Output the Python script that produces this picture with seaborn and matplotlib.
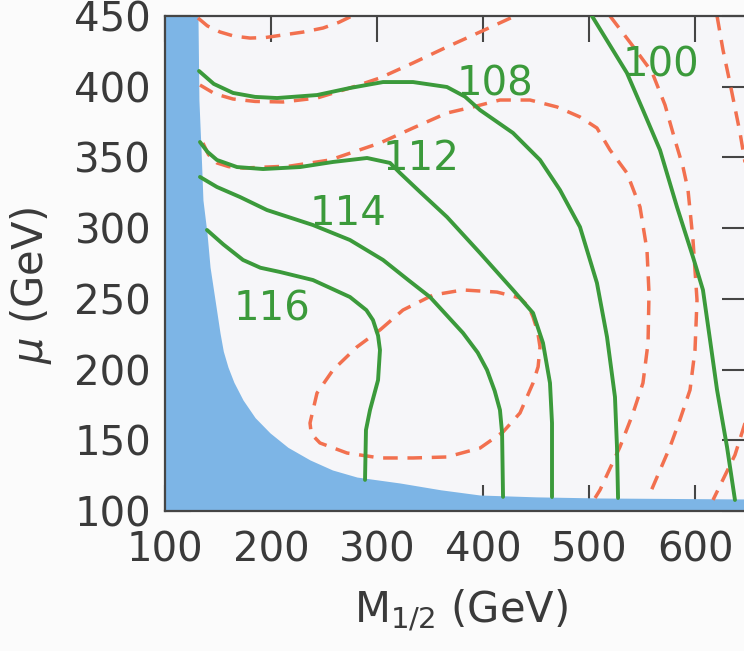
import numpy as np
import pandas as pd
import matplotlib
matplotlib.use("Agg")
import matplotlib.pyplot as plt
import seaborn as sns

# upper edge of the excluded (blue) region, M_1/2 vs mu
edge_m = [100, 131.1, 132.0, 134.0, 135.8, 139.6, 142.5, 147.2, 151.9, 155.0, 159.4, 165.0,
          173.6, 185.0, 199.1, 216.0, 236.8, 258.0, 281.1, 321.7, 360.0, 397.2, 450.0, 510.4, 650]
edge_mu = [450, 450, 390.6, 355.3, 319.9, 296.6, 272.5, 249.2, 225.9, 213.0, 201.8, 191.0,
           178.5, 166.0, 155.2, 145.0, 136.1, 129.0, 124.0, 119.8, 115.0, 111.3, 110.0, 109.2, 108.5]

# solid green contours (labelled values)
m116 = [139.6, 155.0, 173.6, 190.0, 208.5, 239.6, 274.5, 290.0, 296.2, 301.0, 302.8, 301.0,
        293.4, 289.6, 288.7]
mu116 = [298.7, 288.5, 277.5, 272.0, 269.0, 263.3, 251.3, 242.0, 235.0, 224.0, 213.8, 192.6,
         171.4, 157.3, 122.0]

m114 = [133.0, 149.0, 170.8, 196.2, 239.6, 274.5, 305.7, 330.0, 350.0, 381.1, 395.0, 403.8,
        411.0, 416.0, 418.0, 418.9]
mu114 = [336.2, 329.1, 322.0, 312.8, 302.2, 291.6, 277.5, 263.0, 251.3, 225.9, 212.0, 199.7,
         185.0, 171.4, 155.2, 110.0]

m112 = [133.0, 140.0, 149.0, 167.9, 192.5, 227.4, 258.5, 290.6, 312.3, 321.7, 340.6, 366.0,
        397.2, 428.3, 447.2, 456.6, 463.2, 465.1, 465.1]
mu112 = [360.9, 354.0, 348.2, 343.2, 341.8, 343.2, 346.8, 349.6, 346.1, 339.0, 325.6, 307.9,
         282.4, 256.3, 240.0, 218.8, 190.5, 162.2, 109.9]

m108 = [132.1, 146.0, 164.2, 185.0, 205.7, 243.4, 274.5, 305.7, 334.0, 366.0, 383.0, 397.2,
        428.3, 453.8, 472.6, 491.5, 507.5, 517.0, 524.5, 526.4, 527.4]
mu108 = [411.1, 402.0, 395.6, 392.8, 392.0, 394.1, 399.1, 403.3, 403.3, 399.8, 393.0, 383.5,
         367.3, 348.2, 327.0, 300.8, 261.2, 223.0, 180.6, 145.3, 109.2]

m100 = [502.8, 535.8, 550.9, 567.0, 583.0, 598.1, 607.5, 614.2, 620.8, 630.2, 637.7]
mu100 = [450.0, 409.7, 383.5, 355.2, 315.0, 279.6, 256.3, 220.9, 185.6, 145.3, 107.8]

# dashed orange contours (unlabelled)
m_d1 = [131.1, 140.0, 151.9, 165.0, 180.2, 195.0, 211.3, 230.0, 249.1, 264.0, 276.4]
mu_d1 = [448.6, 443.0, 438.7, 435.8, 434.4, 434.8, 436.6, 438.6, 441.5, 445.5, 450.0]

m_d2 = [133.0, 147.0, 164.2, 185.0, 211.3, 243.4, 274.5, 302.8, 334.0, 366.0, 397.2, 430.2]
mu_d2 = [401.2, 395.0, 391.3, 389.6, 389.2, 392.0, 399.1, 406.2, 416.8, 428.1, 438.7, 450.0]

m_d3 = [135.8, 141.0, 149.0, 160.0, 173.6, 217.9, 255.7, 302.8, 334.0, 366.0, 390.6, 416.0,
        444.3, 469.8, 491.5, 507.5, 519.8, 535.8, 548.1, 554.7, 556.6, 555.7, 550.9, 541.0,
        529.2, 510.4, 505.7]
mu_d3 = [360.2, 352.0, 346.1, 343.5, 342.5, 343.9, 348.2, 360.2, 370.8, 381.4, 385.7, 390.6,
         390.6, 385.7, 378.6, 370.8, 355.3, 339.0, 315.0, 284.5, 254.1, 218.8, 190.5, 168.0,
         145.3, 114.9, 109.2]

m_d4 = [519.8, 540.6, 559.4, 571.7, 581.1, 588.7, 593.4, 598.1, 601.9, 600.0, 595.3, 586.0,
        576.4, 555.7]
mu_d4 = [450.0, 429.5, 410.4, 387.1, 362.3, 343.2, 327.0, 291.6, 249.2, 213.8, 185.6, 165.0,
         145.3, 109.2]

m_d5 = [620.8, 626.4, 633.0, 642.5, 650.0, 662.0, 647.2, 637.7, 617.0]
mu_d5 = [450.0, 426.0, 402.6, 367.3, 334.0, 250.0, 162.2, 139.6, 107.8]

m_d6 = [302.8, 324.5, 352.8, 381.1, 413.2, 434.9, 443.0, 447.2, 451.5, 453.8, 452.0, 447.2,
        434.9, 418.9, 397.2, 366.0, 334.0, 302.8, 271.7, 246.2, 238.0, 236.8, 243.4, 258.5,
        281.1, 302.8]
mu_d6 = [228.0, 242.1, 252.7, 256.3, 254.8, 250.6, 244.5, 237.2, 227.0, 216.0, 202.0, 190.5,
         169.3, 155.9, 144.5, 138.2, 137.5, 137.5, 141.0, 148.1, 154.5, 162.2, 183.4, 199.7,
         216.0, 228.0]

# contour labels
label_text = ["116", "114", "112", "108", "100"]
label_m = [201.0, 272.6, 341.5, 411.3, 568.0]
label_mu = [235.0, 302.2, 341.1, 394.1, 406.9]

x_ticks = [100, 200, 300, 400, 500, 600]
y_ticks = [100, 150, 200, 250, 300, 350, 400, 450]

green = "#3b9a3b"
orange = "#f2704f"
blue = "#7db5e6"
grey = "#454545"


def long_form(curves):
    parts = [pd.DataFrame({"M": xs, "mu": ys, "curve": name}) for name, xs, ys in curves]
    return pd.concat(parts, ignore_index=True)


solid = long_form([("116", m116, mu116), ("114", m114, mu114), ("112", m112, mu112),
                   ("108", m108, mu108), ("100", m100, mu100)])
dashed = long_form([("d1", m_d1, mu_d1), ("d2", m_d2, mu_d2), ("d3", m_d3, mu_d3),
                    ("d4", m_d4, mu_d4), ("d5", m_d5, mu_d5), ("d6", m_d6, mu_d6)])

sns.set_theme(style="ticks")
plt.rcParams["font.family"] = ["DejaVu Sans"]

fig = plt.figure(figsize=(7.44, 6.51), dpi=100)
fig.patch.set_facecolor("#fbfbfb")
# right spine sits just past the cropped edge of the picture
ax = fig.add_axes([165 / 744, 140 / 651, 583 / 744, 495 / 651])
ax.set_facecolor("#f6f6f9")

ax.fill_between(edge_m, 100, edge_mu, color=blue, lw=0, zorder=1)

sns.lineplot(data=dashed, x="M", y="mu", units="curve", estimator=None, sort=False,
             color=orange, lw=2.5, linestyle=(0, (4.2, 2.8)), ax=ax, zorder=2)
sns.lineplot(data=solid, x="M", y="mu", units="curve", estimator=None, sort=False,
             color=green, lw=2.8, ax=ax, zorder=3)

for t, xm, ym in zip(label_text, label_m, label_mu):
    ax.text(xm, ym, t, color=green, fontsize=29, ha="center", va="baseline", zorder=4)

ax.set_xlim(100, 650)
ax.set_ylim(100, 450)
ax.set_xticks(x_ticks)
ax.set_yticks(y_ticks)
ax.tick_params(direction="in", length=19, width=1.5, top=True, right=True,
               color=grey, labelcolor="#3a3a3a", labelsize=29)
ax.tick_params(axis="x", pad=14)
ax.tick_params(axis="y", pad=10)
for s in ax.spines.values():
    s.set_color(grey)
    s.set_linewidth(1.6)

ax.set_xlabel("M$_{1/2}$ (GeV)", fontsize=30, color="#3a3a3a")
ax.set_ylabel("$\\mu$ (GeV)", fontsize=30, color="#3a3a3a")
ax.xaxis.set_label_coords(0.508, -0.155)
ax.yaxis.set_label_coords(-0.19, 0.457)

fig.savefig("out.png", dpi=100, facecolor=fig.get_facecolor())
